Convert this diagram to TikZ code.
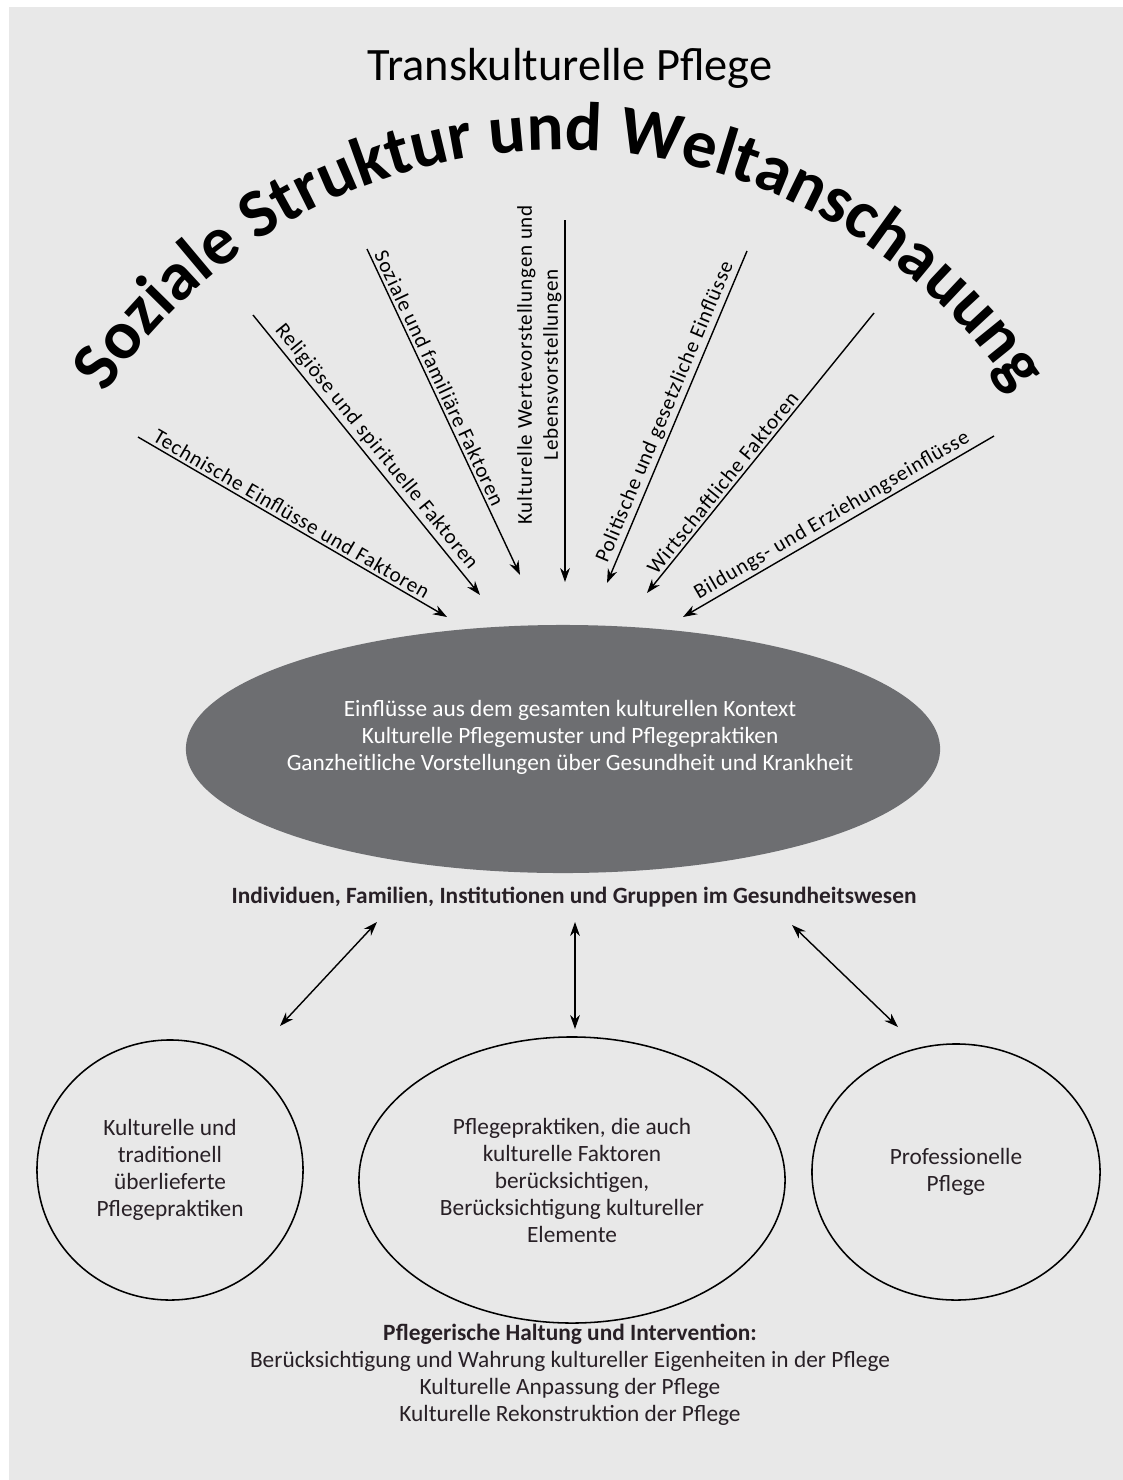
\documentclass[tikz,border=0pt]{standalone}
\usepackage{fontspec}
\setmainfont{Carlito}
\usetikzlibrary{arrows.meta}
\usetikzlibrary{decorations.text}
\usetikzlibrary{shapes}
\definecolor{bggray}{RGB}{232,232,232}
\definecolor{ovalgray}{RGB}{109,110,113}
\definecolor{inkdark}{RGB}{40,32,38}
\newcommand\arcfont{\fontsize{49}{54}\selectfont\bfseries}
\newcommand\labelfont{\fontsize{15}{18.5}\selectfont\addfontfeature{LetterSpace=4}}
\newcommand\bodyfont{\fontsize{16.6}{19.2}\selectfont}

\begin{document}
\begin{tikzpicture}[x=0.025cm,y=0.025cm,>={Stealth[length=10pt,width=7pt]},
  factor/.style={sloped,above,font=\labelfont,inner sep=2pt},
  bubble/.style={draw,ellipse,line width=1.1pt,align=center,text=inkdark,font=\bodyfont,inner sep=0pt},
  oval/.style={ellipse,fill=ovalgray,minimum width=18.85cm,minimum height=6.2cm},
  caption/.style={align=center,text=inkdark,font=\bodyfont}]

\useasboundingbox (0,0) rectangle (1123,-1480);
\fill[bggray] (9,-7) rectangle (1123,-1480);

\node[font=\fontsize{33}{37}\selectfont,anchor=base] (titel) at (570,-80) {Transkulturelle Pflege};

\path[decorate,decoration={text along path,text align=center,
  text={|\arcfont|Soziale Struktur und Weltanschauung}}]
  (560,-695) ++(150:545) arc[start angle=150,end angle=30,radius=545];

\coordinate (tech) at (138,-437);
\coordinate (reli) at (253,-315);
\coordinate (sozi) at (367,-249);
\coordinate (kult) at (565,-220);
\coordinate (poli) at (747,-251);
\coordinate (wirt) at (874,-313);
\coordinate (bild) at (994,-436);

\coordinate (techtip) at (447,-617);
\coordinate (relitip) at (480,-595);
\coordinate (sozitip) at (520,-575);
\coordinate (kulttip) at (565,-582);
\coordinate (politip) at (607,-583);
\coordinate (wirttip) at (647,-593);
\coordinate (bildtip) at (683,-617);

\begin{scope}[->,line width=1pt]
\draw (tech) -- node[factor,pos=.48] {Technische Einflüsse und Faktoren} (techtip);
\draw (reli) -- node[factor,pos=.5] {Religiöse und spirituelle Faktoren} (relitip);
\draw (sozi) -- node[factor,pos=.41] {Soziale und familiäre Faktoren} (sozitip);
\draw (kult) -- node[pos=.4,rotate=90,anchor=south,align=center,font=\labelfont,inner sep=2pt] (kulttext) {Kulturelle Wertevorstellungen und\\Lebensvorstellungen} (kulttip);
\draw (poli) -- node[factor,pos=.5] {Politische und gesetzliche Einflüsse} (politip);
\draw (wirt) -- node[factor,pos=.63] {Wirtschaftliche Faktoren} (wirttip);
\draw (bild) -- node[factor,pos=.5] {Bildungs- und Erziehungseinflüsse} (bildtip);
\end{scope}

\node[oval] (kontext) at (563,-749) {};
\node[align=center,text=white,font=\bodyfont] (kontexttext) at (570,-737)
  {Einflüsse aus dem gesamten kulturellen Kontext\\
   Kulturelle Pflegemuster und Pflegepraktiken\\
   Ganzheitliche Vorstellungen über Gesundheit und Krankheit};

\node[caption,font=\bodyfont\bfseries] (akteure) at (574,-897)
  {Individuen, Familien, Institutionen und Gruppen im Gesundheitswesen};

\node[bubble,minimum width=6.65cm,minimum height=6.5cm] (laien) at (170,-1170)
  {Kulturelle und\\traditionell\\überlieferte\\Pflegepraktiken};
\node[bubble,minimum width=10.65cm,minimum height=7.15cm] (kultpflege) at (572,-1180)
  {Pflegepraktiken, die auch\\kulturelle Faktoren\\berücksichtigen,\\Berücksichtigung kultureller\\Elemente};
\node[bubble,minimum width=7.2cm,minimum height=6.4cm] (profi) at (956,-1172)
  {Professionelle\\Pflege};

\coordinate (lefttop) at (377,-922);
\coordinate (leftbot) at (280,-1026);
\coordinate (midtop) at (575,-922);
\coordinate (midbot) at (575,-1029);
\coordinate (righttop) at (792,-925);
\coordinate (rightbot) at (898,-1027);

\begin{scope}[<->,line width=1pt]
\draw (lefttop) -- (leftbot);
\draw (midtop) -- (midbot);
\draw (righttop) -- (rightbot);
\end{scope}

\node[caption] (haltung) at (570,-1375)
  {\textbf{Pflegerische Haltung und Intervention:}\\
   Berücksichtigung und Wahrung kultureller Eigenheiten in der Pflege\\
   Kulturelle Anpassung der Pflege\\
   Kulturelle Rekonstruktion der Pflege};
\end{tikzpicture}
\end{document}
